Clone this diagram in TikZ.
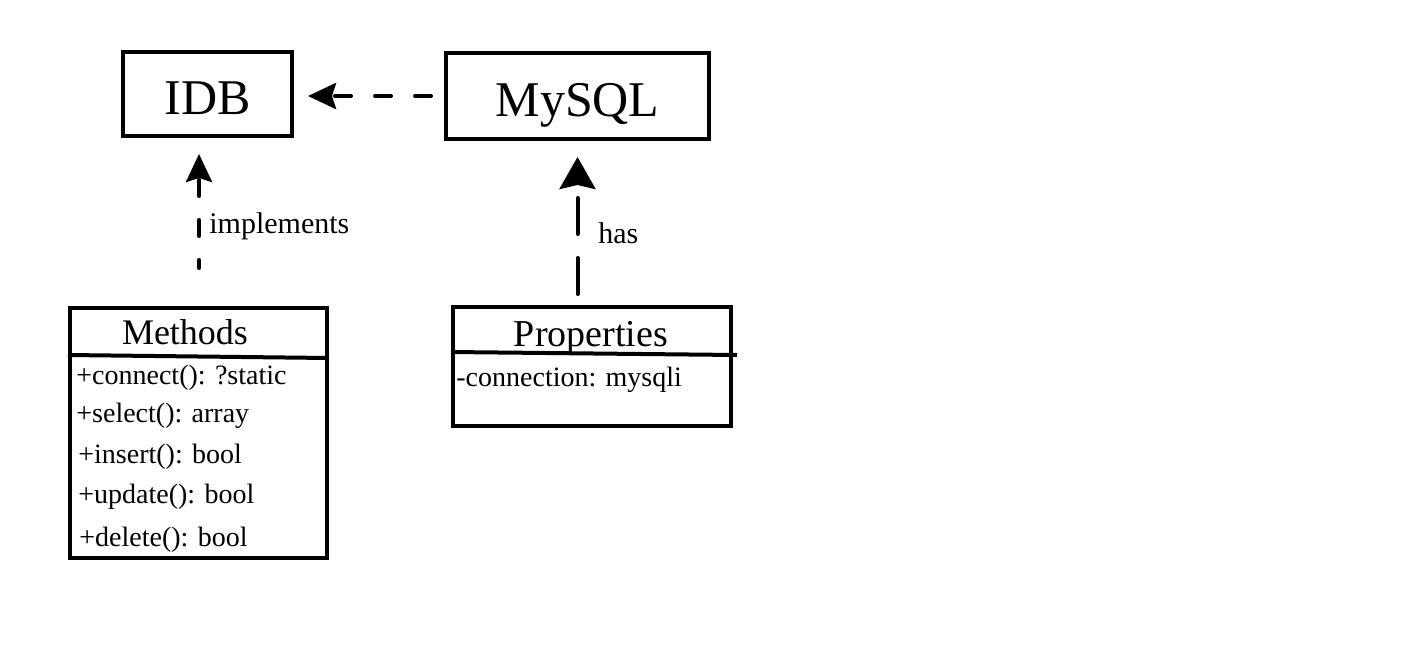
\documentclass[tikz,border=0pt]{standalone}
\usepackage{fontspec}
\setmainfont{Liberation Serif}
\usetikzlibrary{arrows.meta}

\tikzset{
	box/.style={draw, line width=2pt, inner sep=0pt},
	big/.style={font=\fontsize{25}{28}\selectfont, text height=20pt, text depth=0pt},
	dep/.style={line width=2pt, line cap=round, dash pattern=on 8pt off 12pt},
	tip/.style={-{Stealth[length=14pt, width=13pt, inset=2pt]}},
	bigtip/.style={-{Stealth[length=16pt, width=18pt, inset=2pt]}},
	item/.style={anchor=west, inner sep=0pt, font=\fontsize{14}{16}\selectfont},
	label/.style={anchor=west, inner sep=0pt, font=\fontsize{15}{16}\selectfont},
}

\begin{document}
\begin{tikzpicture}[x=0.5pt, y=-0.5pt]
	\useasboundingbox (0,0) rectangle (1416,664);
	% interface and class
	\node[box, big, minimum width=84.5pt, minimum height=42pt] (idb) at (207.5,94) {IDB};
	\node[box, big, minimum width=131.5pt, minimum height=43pt] (mysql) at (577.5,96) {MySQL};
	% member boxes
	\node[box, minimum width=128.5pt, minimum height=125pt] (methods) at (198.5,433) {};
	\node[box, minimum width=139pt, minimum height=59.5pt] (props) at (592,366.5) {};
	\draw[line width=2pt] (methods.west |- 0,355) -- (methods.east |- 0,358);
	\draw[line width=2pt] (props.west |- 0,352) -- ([xshift=2pt]props.east |- 0,355);
	\node[font=\fontsize{18}{20}\selectfont] (mtitle) at (185,332) {Methods};
	\node[font=\fontsize{19}{20}\selectfont] (ptitle) at (591,338) {Properties};
	\node[item] (connect) at (76,378) {+connect(): ?static};
	\node[item] (select) at (76,416) {+select(): array};
	\node[item] (insert) at (78,457) {+insert(): bool};
	\node[item] (update) at (78,497) {+update(): bool};
	\node[item] (delete) at (79,540) {+delete(): bool};
	\node[item] (conn) at (456,380) {-connection: mysqli};
	% relations
	\draw[dep, tip, shorten <=6.5pt, shorten >=7pt] (mysql.west) -- (idb.east |- mysql.west);
	\draw[dep, tip, dash phase=4pt, shorten <=19pt, shorten >=8pt] (methods.north -| 199,0) -- (idb.south -| 199,0);
	\draw[dep, bigtip, dash pattern=on 18pt off 12pt, shorten <=5.5pt, shorten >=8pt] (props.north -| mysql.south) -- (mysql.south);
	\node[label] (impl) at (209,226) {implements};
	\node[label] (has) at (598,233) {has};
\end{tikzpicture}
\end{document}
